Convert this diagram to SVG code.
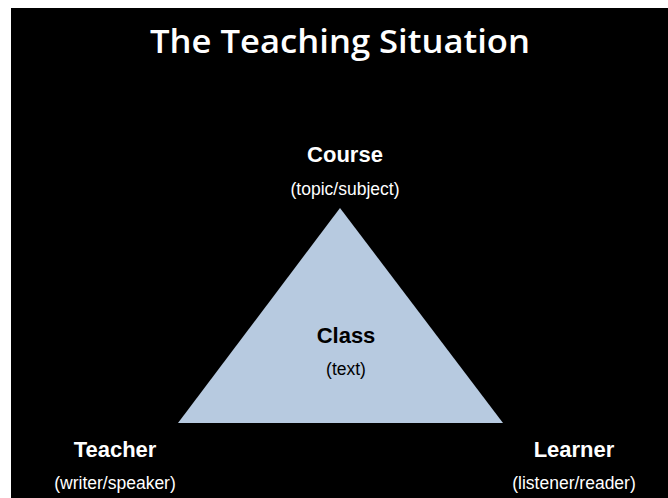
<svg xmlns="http://www.w3.org/2000/svg" width="668" height="498" viewBox="0 0 668 498">
<style>
.lbl{font-family:"Liberation Sans",Arial,sans-serif;fill:#fff;text-anchor:middle}
.b{font-weight:bold;font-size:22px}
.s{font-size:17.5px}
.dark{fill:#000}
</style>
<rect x="0" y="0" width="668" height="498" fill="#fff"/>
<rect x="11" y="8" width="657" height="490" fill="#000"/>
<text x="340" y="53" font-family="'Open Sans',sans-serif" font-weight="600" font-size="33" fill="#fff" text-anchor="middle" textLength="380" lengthAdjust="spacingAndGlyphs">The Teaching Situation</text>
<g id="class">
<polygon points="340,208 178,423 503,423" fill="#b7cae0"/>
<text class="lbl b dark" x="346" y="343">Class</text>
<text class="lbl s dark" x="346" y="375">(text)</text>
</g>
<g id="course">
<text class="lbl b" x="345" y="162">Course</text>
<text class="lbl s" x="345" y="195">(topic/subject)</text>
</g>
<g id="teacher">
<text class="lbl b" x="115" y="457">Teacher</text>
<text class="lbl s" x="115" y="489">(writer/speaker)</text>
</g>
<g id="learner">
<text class="lbl b" x="574" y="457">Learner</text>
<text class="lbl s" x="574" y="489">(listener/reader)</text>
</g>
<g id="connectors"></g>
</svg>
